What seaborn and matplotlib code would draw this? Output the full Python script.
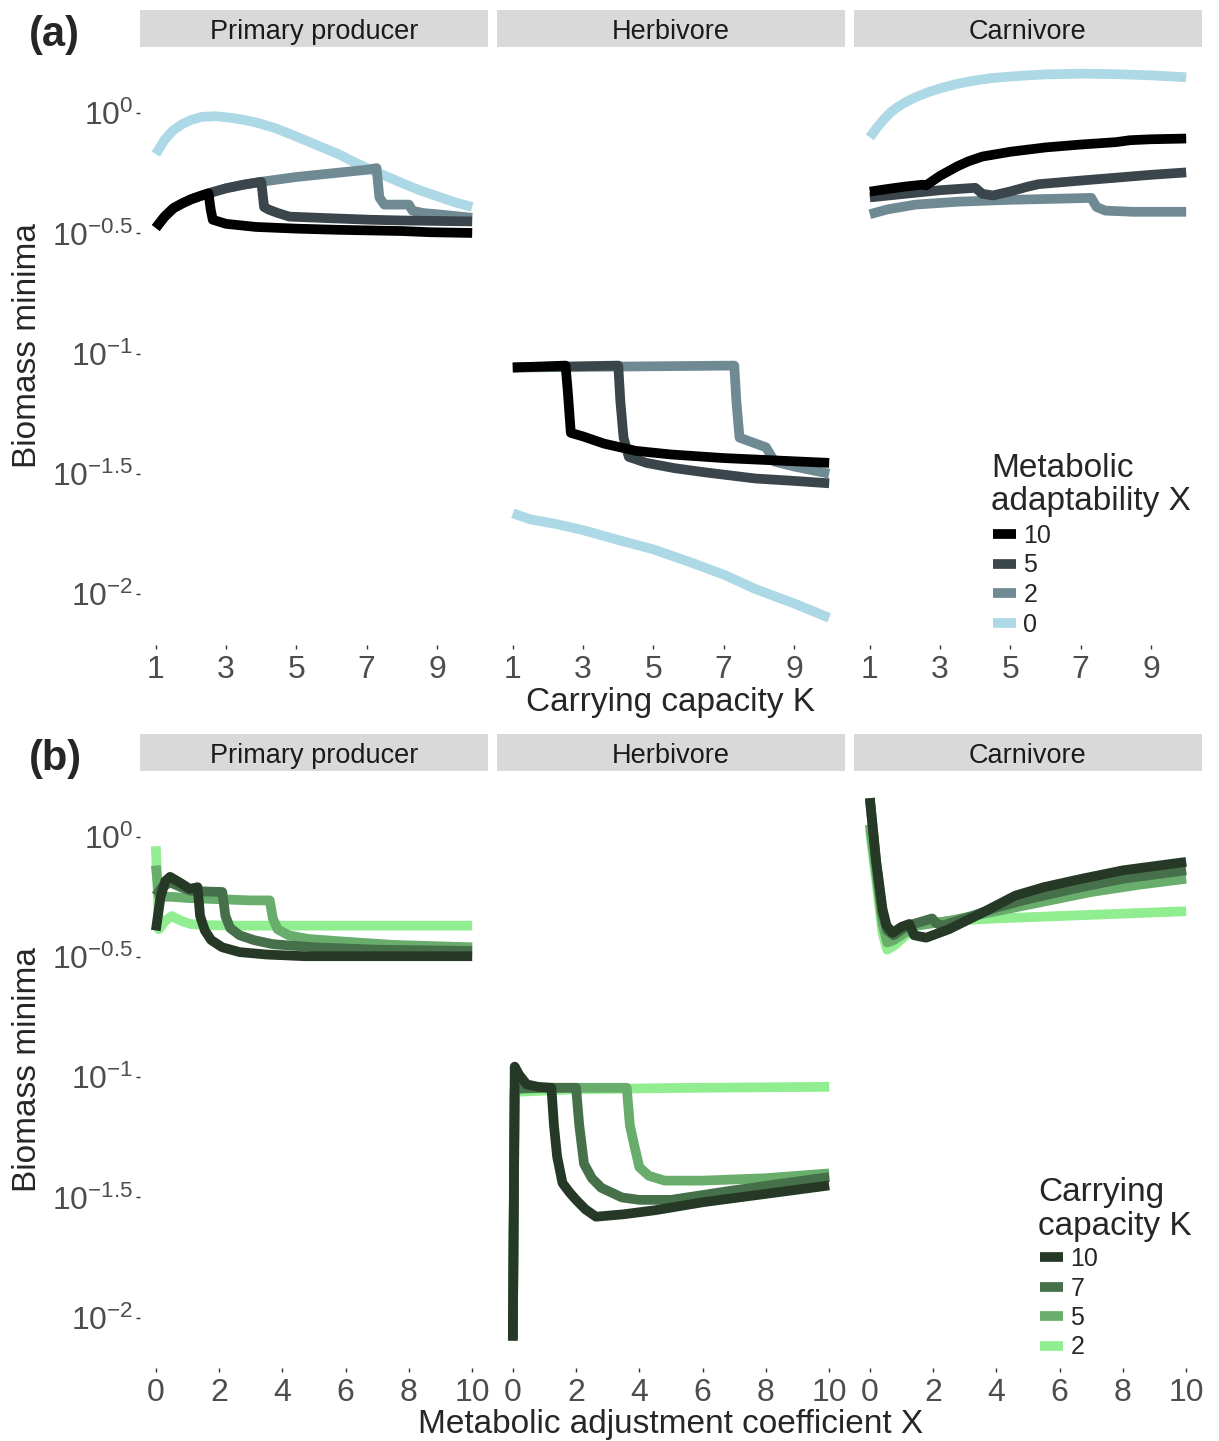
import numpy as np
import pandas as pd
import matplotlib.pyplot as plt
import seaborn as sns
from matplotlib.lines import Line2D
from matplotlib.ticker import NullLocator

# All biomass values below are log10(biomass minima)

# ---- panel (a): x = carrying capacity K, one line per metabolic adaptability X
a_prod_x0_k = [1, 1.25, 1.5, 1.75, 2, 2.3, 2.7, 3.1, 3.5, 3.9, 4.4, 4.8, 5.3, 5.7, 6.2, 6.6, 7.1, 7.6, 8.0, 8.5, 9, 9.5, 10]
a_prod_x0_b = [-0.17, -0.11, -0.07, -0.045, -0.028, -0.015, -0.012, -0.018, -0.027, -0.04, -0.062, -0.085, -0.115,
               -0.14, -0.17, -0.20, -0.234, -0.265, -0.29, -0.32, -0.345, -0.37, -0.39]
a_prod_x2_k = [1, 1.25, 1.5, 1.75, 2, 2.25, 2.5, 3, 3.5, 4, 5, 6, 7, 7.28, 7.36, 7.5, 8.2, 8.3, 8.6, 9, 10]
a_prod_x2_b = [-0.477, -0.43, -0.395, -0.375, -0.358, -0.345, -0.333, -0.312, -0.297, -0.285, -0.265, -0.25, -0.235,
               -0.228, -0.35, -0.38, -0.38, -0.405, -0.415, -0.42, -0.435]
a_prod_x5_k = [1, 1.25, 1.5, 1.75, 2, 2.25, 2.5, 3, 3.5, 4.0, 4.08, 4.2, 4.45, 4.8, 6, 7.1, 8, 9, 10]
a_prod_x5_b = [-0.477, -0.43, -0.395, -0.375, -0.358, -0.345, -0.333, -0.312, -0.297, -0.285, -0.39, -0.40, -0.414,
               -0.43, -0.437, -0.443, -0.446, -0.448, -0.45]
a_prod_x10_k = [1, 1.25, 1.5, 1.75, 2, 2.25, 2.5, 2.56, 2.62, 3.0, 3.85, 5, 6.2, 8, 8.8, 10]
a_prod_x10_b = [-0.477, -0.43, -0.395, -0.375, -0.358, -0.345, -0.333, -0.40, -0.443, -0.46, -0.473, -0.48, -0.485,
                -0.49, -0.495, -0.498]

a_herb_x0_k = [1, 1.2, 1.5, 2.25, 3, 4.1, 5, 6, 7, 7.9, 9, 10]
a_herb_x0_b = [-1.665, -1.675, -1.69, -1.71, -1.735, -1.78, -1.815, -1.866, -1.92, -1.98, -2.04, -2.10]
a_herb_x2_k = [1, 7.3, 7.36, 7.45, 8.2, 8.45, 9, 10]
a_herb_x2_b = [-1.058, -1.05, -1.2, -1.35, -1.39, -1.45, -1.47, -1.50]
a_herb_x5_k = [1, 4.0, 4.06, 4.15, 4.3, 4.8, 5.6, 6.5, 7.9, 9, 10]
a_herb_x5_b = [-1.058, -1.05, -1.2, -1.35, -1.43, -1.455, -1.477, -1.495, -1.52, -1.53, -1.54]
a_herb_x10_k = [1, 2.5, 2.56, 2.65, 3.0, 3.6, 4.5, 5.5, 7, 8.5, 10]
a_herb_x10_b = [-1.058, -1.05, -1.15, -1.33, -1.345, -1.375, -1.405, -1.42, -1.435, -1.445, -1.455]

a_carn_x0_k = [1, 1.2, 1.4, 1.6, 1.8, 2, 2.3, 2.7, 3.1, 3.5, 4, 4.5, 5, 5.5, 6, 7, 8, 9, 10]
a_carn_x0_b = [-0.10, -0.06, -0.025, 0.005, 0.027, 0.045, 0.067, 0.09, 0.108, 0.123, 0.137, 0.147, 0.153, 0.158,
               0.162, 0.165, 0.163, 0.158, 0.15]
a_carn_x2_k = [1, 1.5, 2.3, 3.5, 5, 6.5, 7.3, 7.45, 7.7, 8.5, 10]
a_carn_x2_b = [-0.42, -0.40, -0.38, -0.368, -0.36, -0.355, -0.352, -0.39, -0.405, -0.41, -0.41]
a_carn_x5_k = [1, 2, 3, 4.0, 4.2, 4.5, 5, 5.5, 5.8, 7, 8, 9, 10]
a_carn_x5_b = [-0.35, -0.335, -0.32, -0.31, -0.335, -0.342, -0.325, -0.305, -0.295, -0.28, -0.268, -0.256, -0.246]
a_carn_x10_k = [1, 1.5, 2, 2.5, 2.6, 3, 3.5, 3.8, 4.2, 5, 6, 7, 8, 8.4, 9, 10]
a_carn_x10_b = [-0.326, -0.315, -0.305, -0.297, -0.30, -0.26, -0.22, -0.20, -0.18, -0.16, -0.142, -0.13, -0.12,
                -0.112, -0.108, -0.105]

# ---- panel (b): x = metabolic adjustment coefficient X, one line per carrying capacity K
b_prod_k2_x = [0, 0.1, 0.3, 0.5, 0.8, 1.1, 1.6, 2.6, 5, 10]
b_prod_k2_b = [-0.04, -0.385, -0.35, -0.33, -0.35, -0.363, -0.368, -0.37, -0.37, -0.37]
b_prod_k5_x = [0, 0.1, 0.5, 1, 2, 3.0, 3.6, 3.7, 3.85, 4.2, 4.8, 5.8, 7.5, 10]
b_prod_k5_b = [-0.12, -0.25, -0.25, -0.255, -0.26, -0.265, -0.265, -0.34, -0.385, -0.41, -0.425, -0.435, -0.45, -0.46]
b_prod_k7_x = [0, 0.2, 0.45, 0.8, 1.1, 1.6, 2.1, 2.2, 2.35, 2.65, 3.1, 3.7, 5, 7, 10]
b_prod_k7_b = [-0.245, -0.21, -0.19, -0.21, -0.225, -0.228, -0.23, -0.33, -0.38, -0.41, -0.43, -0.447, -0.46, -0.47, -0.475]
b_prod_k10_x = [0, 0.15, 0.3, 0.45, 0.75, 1.07, 1.32, 1.4, 1.55, 1.75, 2.1, 2.65, 3.5, 4.7, 10]
b_prod_k10_b = [-0.39, -0.25, -0.185, -0.167, -0.19, -0.217, -0.21, -0.33, -0.39, -0.43, -0.46, -0.48, -0.49, -0.497, -0.497]

b_herb_k2_x = [0, 0.06, 0.3, 2, 5, 10]
b_herb_k2_b = [-2.09, -1.06, -1.06, -1.05, -1.045, -1.04]
b_herb_k5_x = [0, 0.06, 1, 2, 3.6, 3.7, 3.85, 4.0, 4.3, 4.8, 6, 8, 10]
b_herb_k5_b = [-2.09, -1.05, -1.044, -1.044, -1.044, -1.2, -1.29, -1.374, -1.41, -1.43, -1.43, -1.42, -1.40]
b_herb_k7_x = [0, 0.06, 0.3, 1, 2.0, 2.1, 2.25, 2.5, 2.8, 3.45, 4, 5, 7, 10]
b_herb_k7_b = [-2.09, -1.05, -1.045, -1.044, -1.044, -1.2, -1.36, -1.42, -1.46, -1.50, -1.51, -1.51, -1.47, -1.415]
b_herb_k10_x = [0, 0.06, 0.2, 0.44, 0.8, 1.22, 1.3, 1.4, 1.57, 1.8, 2.0, 2.3, 2.63, 3.5, 4.5, 6, 8, 10]
b_herb_k10_b = [-2.096, -0.956, -0.99, -1.03, -1.04, -1.044, -1.2, -1.33, -1.44, -1.48, -1.51, -1.55, -1.58, -1.57,
                -1.553, -1.52, -1.485, -1.45]

b_carn_k2_x = [0, 0.2, 0.4, 0.55, 0.8, 1.47, 2.5, 4, 6, 8, 10]
b_carn_k2_b = [0.03, -0.18, -0.40, -0.47, -0.45, -0.37, -0.35, -0.34, -0.33, -0.32, -0.31]
b_carn_k5_x = [0, 0.2, 0.4, 0.55, 0.75, 1.47, 2.5, 4, 5.5, 7, 8.5, 10]
b_carn_k5_b = [0.05, -0.15, -0.36, -0.44, -0.43, -0.37, -0.35, -0.31, -0.27, -0.23, -0.2, -0.175]
b_carn_k7_x = [0, 0.2, 0.4, 0.55, 0.75, 1.2, 1.97, 2.1, 2.3, 3, 4, 5, 6.5, 8, 10]
b_carn_k7_b = [0.16, -0.11, -0.32, -0.39, -0.41, -0.37, -0.34, -0.36, -0.37, -0.34, -0.295, -0.26, -0.215, -0.175, -0.14]
b_carn_k10_x = [0, 0.2, 0.4, 0.53, 0.72, 1.0, 1.25, 1.4, 1.78, 2.5, 3.5, 4.6, 5.5, 6.7, 8, 10]
b_carn_k10_b = [0.16, -0.10, -0.30, -0.37, -0.40, -0.375, -0.363, -0.41, -0.42, -0.385, -0.32, -0.245, -0.21, -0.175,
                -0.14, -0.105]

facets = ['Primary producer', 'Herbivore', 'Carnivore']
a_levels = ['0', '2', '5', '10']      # draw order, 10 on top
b_levels = ['2', '5', '7', '10']
a_colors = ['#ADD8E6', '#708A94', '#3A464B', '#000000']
b_colors = ['#90EE90', '#69AD6C', '#46704A', '#263826']

a_series = [
    ('Primary producer', '0', a_prod_x0_k, a_prod_x0_b), ('Primary producer', '2', a_prod_x2_k, a_prod_x2_b),
    ('Primary producer', '5', a_prod_x5_k, a_prod_x5_b), ('Primary producer', '10', a_prod_x10_k, a_prod_x10_b),
    ('Herbivore', '0', a_herb_x0_k, a_herb_x0_b), ('Herbivore', '2', a_herb_x2_k, a_herb_x2_b),
    ('Herbivore', '5', a_herb_x5_k, a_herb_x5_b), ('Herbivore', '10', a_herb_x10_k, a_herb_x10_b),
    ('Carnivore', '0', a_carn_x0_k, a_carn_x0_b), ('Carnivore', '2', a_carn_x2_k, a_carn_x2_b),
    ('Carnivore', '5', a_carn_x5_k, a_carn_x5_b), ('Carnivore', '10', a_carn_x10_k, a_carn_x10_b),
]
b_series = [
    ('Primary producer', '2', b_prod_k2_x, b_prod_k2_b), ('Primary producer', '5', b_prod_k5_x, b_prod_k5_b),
    ('Primary producer', '7', b_prod_k7_x, b_prod_k7_b), ('Primary producer', '10', b_prod_k10_x, b_prod_k10_b),
    ('Herbivore', '2', b_herb_k2_x, b_herb_k2_b), ('Herbivore', '5', b_herb_k5_x, b_herb_k5_b),
    ('Herbivore', '7', b_herb_k7_x, b_herb_k7_b), ('Herbivore', '10', b_herb_k10_x, b_herb_k10_b),
    ('Carnivore', '2', b_carn_k2_x, b_carn_k2_b), ('Carnivore', '5', b_carn_k5_x, b_carn_k5_b),
    ('Carnivore', '7', b_carn_k7_x, b_carn_k7_b), ('Carnivore', '10', b_carn_k10_x, b_carn_k10_b),
]


def to_frame(series):
    rows = []
    for facet, grp, xs, bs in series:
        for x, b in zip(xs, bs):
            rows.append({'facet': facet, 'group': grp, 'x': x, 'biomass': 10 ** b})
    return pd.DataFrame(rows)


a_df = to_frame(a_series)
b_df = to_frame(b_series)

sns.set_theme(style='white')
plt.rcParams['font.family'] = ['Liberation Sans', 'DejaVu Sans']
plt.rcParams['mathtext.fontset'] = 'custom'
plt.rcParams['mathtext.rm'] = 'Liberation Sans'
plt.rcParams['mathtext.it'] = 'Liberation Sans:italic'
plt.rcParams['mathtext.bf'] = 'Liberation Sans:bold'

W, H = 1219, 1441
fig = plt.figure(figsize=(W / 100, H / 100), dpi=100)
fig.patch.set_facecolor('white')

facet_px = [(140, 488), (497, 845), (854, 1202)]
ytick_vals = [0, -0.5, -1, -1.5, -2]
ytick_labels = [r'$10^{0}$', r'$10^{-0.5}$', r'$10^{-1}$', r'$10^{-1.5}$', r'$10^{-2}$']


def draw_panel(df, levels, colors, strip_top, plot_top, plot_bottom, xlim, xticks, ylim,
               xlabel, title_lines, title_x, title_baselines, legend_x, legend_top, tag):
    pal = dict(zip(levels, colors))
    for j, facet in enumerate(facets):
        x0, x1 = facet_px[j]
        # grey strip with facet name
        sax = fig.add_axes([x0 / W, 1 - plot_top / H, (x1 - x0) / W, (plot_top - strip_top) / H])
        sax.set_facecolor('#D9D9D9')
        sax.set_xticks([])
        sax.set_yticks([])
        for s in sax.spines.values():
            s.set_visible(False)
        sax.text(0.5, 8 / (plot_top - strip_top), facet, ha='center', va='baseline', fontsize=19.5,
                 color='#1A1A1A', transform=sax.transAxes)

        ax = fig.add_axes([x0 / W, 1 - plot_bottom / H, (x1 - x0) / W, (plot_bottom - plot_top) / H])
        sub = df[df['facet'] == facet]
        sns.lineplot(data=sub, x='x', y='biomass', hue='group', hue_order=levels, palette=pal,
                     units='group', estimator=None, sort=False, linewidth=7, legend=False, ax=ax,
                     solid_joinstyle='round', solid_capstyle='butt')
        ax.set_yscale('log')
        ax.set_xlim(*xlim)
        ax.set_ylim(10 ** ylim[0], 10 ** ylim[1])
        ax.set_xticks(xticks)
        ax.set_xticklabels([str(t) for t in xticks])
        ax.yaxis.set_minor_locator(NullLocator())
        ax.set_yticks([10 ** v for v in ytick_vals])
        if j == 0:
            ax.set_yticklabels(ytick_labels)
        else:
            ax.set_yticklabels([])
        ax.set_xlabel('')
        ax.set_ylabel('')
        ax.tick_params(axis='both', labelsize=23, labelcolor='#4D4D4D', color='#333333',
                       length=3, width=1, left=(j == 0), bottom=True)
        ax.tick_params(axis='x', pad=4)
        ax.tick_params(axis='y', pad=2)
        for s in ax.spines.values():
            s.set_visible(False)
        ax.set_facecolor('white')

    yc = 1 - (plot_top + plot_bottom) / 2 / H
    fig.text(28 / W, yc, 'Biomass minima', rotation=90, ha='center', va='center', fontsize=24)
    fig.text(671 / W, 1 - (plot_bottom + 57) / H, xlabel, ha='center', va='center', fontsize=24)
    fig.text(29 / W, 1 - (strip_top + 25) / H, tag, ha='left', va='center', fontsize=30,
             fontweight='bold')

    # legend title, two lines, left aligned
    for line, yb in zip(title_lines, title_baselines):
        fig.text(title_x / W, 1 - yb / H, line, ha='left', va='baseline', fontsize=24)
    handles = [Line2D([0], [0], color=c, lw=7, solid_capstyle='butt') for c in colors[::-1]]
    fig.legend(handles, levels[::-1], loc='upper left',
               bbox_to_anchor=(legend_x / W, 1 - legend_top / H), frameon=False,
               fontsize=18, handlelength=0.92, handletextpad=0.3,
               labelspacing=0.22, borderpad=0, borderaxespad=0)


draw_panel(a_df, a_levels, a_colors, strip_top=10, plot_top=47, plot_bottom=645,
           xlim=(0.55, 10.45), xticks=[1, 3, 5, 7, 9], ylim=(-2.213, 0.276),
           xlabel='Carrying capacity K', title_lines=['Metabolic', 'adaptability X'],
           title_x=991, title_baselines=[477, 510], legend_x=993, legend_top=524, tag='(a)')
draw_panel(b_df, b_levels, b_colors, strip_top=734, plot_top=771, plot_bottom=1368,
           xlim=(-0.5, 10.5), xticks=[0, 2, 4, 6, 8, 10], ylim=(-2.209, 0.273),
           xlabel='Metabolic adjustment coefficient X', title_lines=['Carrying', 'capacity K'],
           title_x=1038, title_baselines=[1201, 1235], legend_x=1040, legend_top=1247, tag='(b)')

plt.savefig('out.png', dpi=100, facecolor='white')
